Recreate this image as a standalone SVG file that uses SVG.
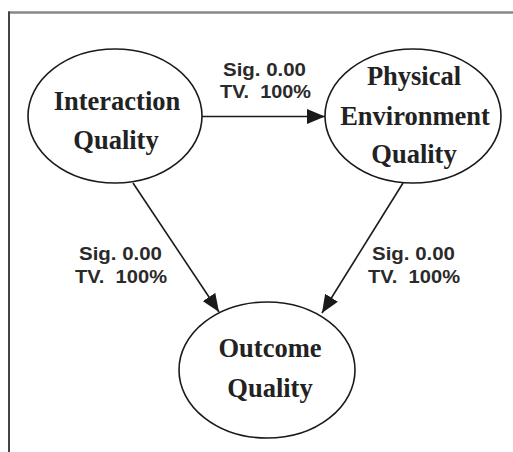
<svg xmlns="http://www.w3.org/2000/svg" width="513" height="452" viewBox="0 0 513 452">
  <style>
    .node ellipse { fill: #ffffff; stroke: #1a1a1a; stroke-width: 1.6; }
    .node text { font-family: "Liberation Serif", "Times New Roman", serif; font-weight: bold; font-size: 26.5px; fill: #222; text-anchor: middle; }
    .edge line { stroke: #1a1a1a; stroke-width: 1.6; }
    .lbl { font-family: "Liberation Sans", Arial, sans-serif; font-weight: bold; font-size: 19px; fill: #2a2a2a; }
  </style>
  <defs>
    <marker id="arrow" viewBox="0 0 18 15" refX="18" refY="7.5" markerWidth="18" markerHeight="15" markerUnits="userSpaceOnUse" orient="auto">
      <path d="M0,0 L18,7.5 L0,15 Z" fill="#1a1a1a"/>
    </marker>
  </defs>
  <rect width="513" height="452" fill="#ffffff"/>
  <!-- frame -->
  <line x1="8" y1="12.5" x2="513" y2="12.5" stroke="#888" stroke-width="2.5"/>
  <line x1="9" y1="11.5" x2="9" y2="452" stroke="#444" stroke-width="2"/>

  <g id="connectors" class="edge">
    <line x1="202" y1="116.5" x2="325" y2="116.5" marker-end="url(#arrow)"/>
    <line x1="133" y1="183" x2="219" y2="312" marker-end="url(#arrow)"/>
    <line x1="403" y1="183" x2="322" y2="313" marker-end="url(#arrow)"/>
    <text class="lbl" x="223" y="76" textLength="83" lengthAdjust="spacingAndGlyphs">Sig. 0.00</text>
    <text class="lbl" x="220" y="98" textLength="91" lengthAdjust="spacingAndGlyphs" xml:space="preserve">TV.  100%</text>
    <text class="lbl" x="79" y="260" textLength="83" lengthAdjust="spacingAndGlyphs">Sig. 0.00</text>
    <text class="lbl" x="75" y="283" textLength="92" lengthAdjust="spacingAndGlyphs" xml:space="preserve">TV.  100%</text>
    <text class="lbl" x="372" y="260" textLength="83" lengthAdjust="spacingAndGlyphs">Sig. 0.00</text>
    <text class="lbl" x="368" y="283" textLength="92" lengthAdjust="spacingAndGlyphs" xml:space="preserve">TV.  100%</text>
  </g>

  <g id="interaction-quality" class="node">
    <ellipse cx="115" cy="116" rx="87" ry="67"/>
    <text x="117" y="110">Interaction</text>
    <text x="116" y="149">Quality</text>
  </g>

  <g id="physical-environment-quality" class="node">
    <ellipse cx="413" cy="116" rx="88" ry="67"/>
    <text x="414" y="85">Physical</text>
    <text x="415" y="125">Environment</text>
    <text x="414" y="163">Quality</text>
  </g>

  <g id="outcome-quality" class="node">
    <ellipse cx="267" cy="370" rx="88" ry="68"/>
    <text x="270" y="357">Outcome</text>
    <text x="270" y="397">Quality</text>
  </g>
</svg>
